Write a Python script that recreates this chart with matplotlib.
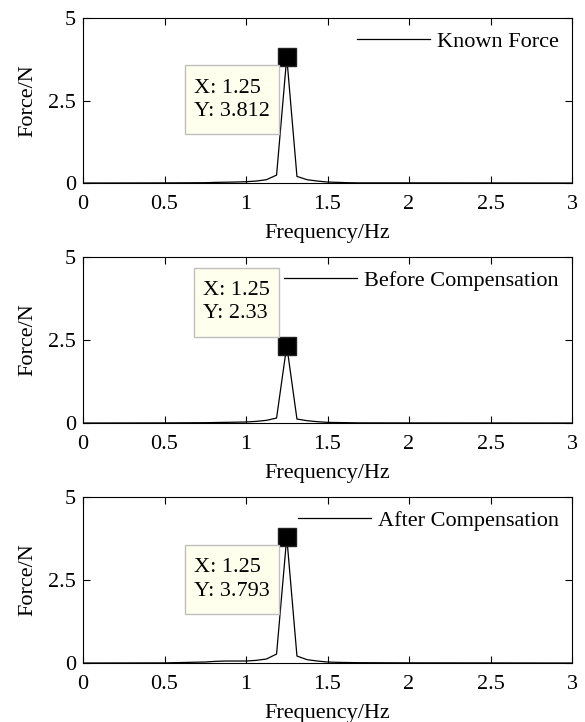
import numpy as np
import matplotlib
matplotlib.use("Agg")
import matplotlib.pyplot as plt
from matplotlib.patches import Rectangle

plt.rcParams['font.family'] = ['Liberation Serif', 'DejaVu Serif']
plt.rcParams['font.size'] = 16

# --- spectrum data ---
freq = [0.0, 0.5, 0.75, 0.8125, 0.875, 0.9375, 1.0, 1.0625, 1.125, 1.1875,
        1.25, 1.3125, 1.375, 1.4375, 1.5, 1.5625, 1.625, 1.6875, 2.0, 2.5, 3.0]

known_force = [0.0, 0.004, 0.01, 0.02, 0.025, 0.03, 0.04, 0.06, 0.1, 0.24,
               3.812, 0.2, 0.1, 0.06, 0.03, 0.02, 0.01, 0.005, 0.005, 0.003, 0.0]
before_comp = [0.0, 0.004, 0.01, 0.015, 0.02, 0.025, 0.03, 0.05, 0.08, 0.15,
               2.33, 0.12, 0.07, 0.04, 0.02, 0.015, 0.01, 0.005, 0.003, 0.002, 0.0]
after_comp = [0.0, 0.004, 0.03, 0.05, 0.06, 0.06, 0.06, 0.08, 0.12, 0.27,
              3.793, 0.21, 0.1, 0.06, 0.03, 0.02, 0.015, 0.01, 0.005, 0.003, 0.0]

labels = ["Known Force", "Before Compensation", "After Compensation"]
series = [known_force, before_comp, after_comp]
peak_x = 1.25
peak_y = [3.812, 2.33, 3.793]
tip_text = ["X: 1.25\nY: 3.812", "X: 1.25\nY: 2.33", "X: 1.25\nY: 3.793"]
tip_above = [False, True, False]

fig = plt.figure(figsize=(5.85, 7.22), dpi=100)
boxes = [[0.1419, 0.7465, 0.8359, 0.2285],
         [0.1419, 0.4141, 0.8359, 0.2299],
         [0.1419, 0.0817, 0.8359, 0.2299]]

renderer = fig.canvas.get_renderer()
pad_x, box_h = 9, 69

for i in range(3):
    ax = fig.add_axes(boxes[i])
    ax.plot(freq, series[i], color='k', lw=0.9, label=labels[i])
    ax.plot([peak_x], [peak_y[i]], 's', color='k', ms=12.5, mec='#202020', zorder=5)

    ax.set_xlim(0, 3)
    ax.set_ylim(0, 5)
    ax.set_xticks([0, 0.5, 1, 1.5, 2, 2.5, 3])
    ax.set_xticklabels(['0', '0.5', '1', '1.5', '2', '2.5', '3'])
    ax.set_yticks([0, 2.5, 5])
    ax.set_yticklabels(['0', '2.5', '5'])
    ax.tick_params(direction='in', top=True, right=True, length=5, width=0.8)
    ax.tick_params(axis='x', pad=8.5)
    ax.tick_params(axis='y', pad=5)
    for sp in ax.spines.values():
        sp.set_linewidth(0.8)
    ax.set_xlabel("Frequency/Hz", labelpad=7)
    ax.set_ylabel("Force/N", labelpad=7.5)
    ax.legend(loc='upper right', frameon=False, handlelength=3.3,
              handletextpad=0.3, borderaxespad=0.2, borderpad=0.4)

    # --- data tip box, MATLAB style ---
    mx, my = ax.transData.transform((peak_x, peak_y[i]))
    t = fig.text(0, 0, tip_text[i], ha='left', va='center', linespacing=1.3,
                 transform=None, zorder=7)
    w = t.get_window_extent(renderer).width + 2 * pad_x
    right = mx - 8
    if tip_above[i]:
        bottom = my + 9
    else:
        bottom = my - 8 - box_h
    rect = Rectangle((right - w, bottom), w, box_h, transform=None,
                     facecolor='#FFFFEE', edgecolor='#BFBFBF', lw=1, zorder=6)
    fig.patches.append(rect)
    t.set_position((right - w + pad_x, bottom + box_h / 2))

fig.savefig("out.png", dpi=100)
